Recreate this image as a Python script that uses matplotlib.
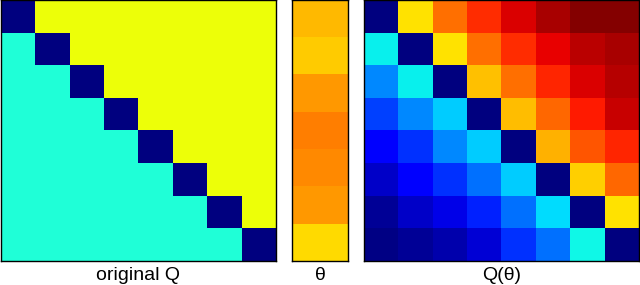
import numpy as np
import matplotlib
matplotlib.use("Agg")
from matplotlib import pyplot as plt

plt.rcParams['font.family'] = ['Liberation Sans', 'DejaVu Sans']

# original Q: diagonal, lower and upper levels (jet colour scale 0..1)
n = 8
diag_val = 0.0
lower_val = 0.39
upper_val = 0.64

# theta vector (7 entries)
theta = [0.713, 0.694, 0.748, 0.775, 0.762, 0.748, 0.676]

# Q(theta)
q_theta = [
    [0.00, 0.67, 0.79, 0.86, 0.92, 0.963, 0.993, 0.993],
    [0.36, 0.00, 0.67, 0.79, 0.86, 0.91, 0.949, 0.963],
    [0.26, 0.36, 0.00, 0.707, 0.79, 0.87, 0.92, 0.95],
    [0.19, 0.26, 0.325, 0.00, 0.71, 0.80, 0.88, 0.935],
    [0.12, 0.175, 0.26, 0.325, 0.00, 0.72, 0.82, 0.87],
    [0.066, 0.12, 0.175, 0.235, 0.325, 0.00, 0.69, 0.80],
    [0.022, 0.066, 0.09, 0.16, 0.235, 0.34, 0.00, 0.67],
    [0.005, 0.02, 0.04, 0.077, 0.175, 0.235, 0.37, 0.00],
]

labels = ["original Q", "\u03b8", "Q(\u03b8)"]

q_orig = np.full((n, n), upper_val)
q_orig[np.tril_indices(n, -1)] = lower_val
q_orig[np.diag_indices(n)] = diag_val

W, H = 640, 285
fig = plt.figure(figsize=(W / 100, H / 100), dpi=100)

boxes = [(1, 276), (292, 348), (364, 639)]
mats = [q_orig, np.array(theta)[:, None], np.array(q_theta)]

for (x0, x1), m, lab in zip(boxes, mats, labels):
    ax = fig.add_axes([x0 / W, 24 / H, (x1 - x0) / W, 261 / H])
    ax.imshow(m, cmap='jet', vmin=0, vmax=1, aspect='auto', interpolation='nearest')
    ax.set_xticks([])
    ax.set_yticks([])
    for s in ax.spines.values():
        s.set_linewidth(1.0)
        s.set_color('black')
    ax.set_xlabel(lab, fontsize=14, labelpad=4)

fig.savefig("out.png", dpi=100)
